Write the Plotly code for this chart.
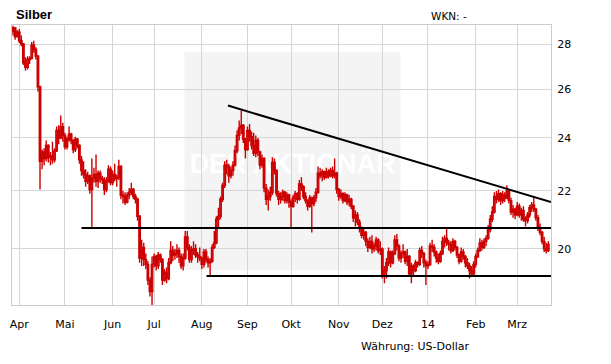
import math
import pandas as pd
import plotly.graph_objects as go

# Trading days (weekdays) shown on the chart
dates = pd.bdate_range("2013-03-27", "2014-03-24")

opens = [
    28.60, 28.75, 28.35,
    28.55, 28.15, 28.00, 27.15, 26.95, 27.30, 27.35, 27.95, 27.75, 27.45, 26.10, 23.10, 23.45, 23.20, 23.70, 23.25, 23.30, 23.15, 23.50, 24.30, 24.00, 24.45,
    24.10, 23.65, 23.95, 24.15, 23.90, 23.55, 23.95, 23.70, 23.15, 22.75, 22.60, 22.35, 22.55, 22.05, 22.45, 22.60, 22.35, 22.65, 22.45, 22.40, 22.05, 22.35, 22.80,
    22.30, 22.60, 22.45, 22.50, 22.90, 21.85, 21.80, 21.60, 21.85, 21.95, 22.05, 21.80, 21.70, 21.10, 19.70, 20.05, 19.65, 19.50, 19.00, 18.65,
    19.50, 19.75, 19.45, 19.80, 19.65, 19.00, 19.25, 19.05, 19.55, 19.95, 19.80, 19.85, 19.95, 19.75, 19.45, 19.70, 20.40, 20.05, 19.65, 19.95, 20.00, 19.80, 19.75,
    19.70, 19.50, 19.90, 19.65, 19.55, 19.60, 20.05, 20.20, 21.00, 21.10, 21.70, 22.20, 22.95, 22.90, 22.55, 22.75, 22.95, 23.50, 24.10, 24.40, 24.50, 23.95,
    23.55, 24.30, 24.05, 23.70, 23.40, 23.90, 23.45, 22.95, 23.20, 22.10, 21.70, 21.80, 21.95, 23.05, 22.75, 21.90, 21.70, 21.80, 21.95, 21.65, 21.85,
    21.60, 21.45, 21.75, 21.90, 21.70, 22.25, 22.15, 21.80, 21.65, 21.45, 21.75, 21.55, 21.75, 21.95, 22.65, 22.55, 22.70, 22.50, 22.70, 22.55, 22.75, 22.55, 22.65,
    22.05, 21.80, 21.90, 21.65, 21.85, 21.60, 21.70, 21.45, 21.05, 21.15, 20.90, 20.70, 20.45, 20.55, 20.25, 20.05, 20.25, 20.00, 20.10, 20.30, 19.95,
    20.00, 19.15, 19.30, 19.55, 19.90, 19.55, 19.85, 20.30, 20.10, 19.70, 19.85, 19.90, 19.60, 19.75, 19.20, 19.45, 19.30, 19.55, 19.50, 19.95, 19.85, 19.55,
    19.45, 19.50, 20.10, 20.05, 19.90, 19.70, 19.60, 19.85, 20.25, 20.35, 20.20, 20.15, 19.95, 20.25, 20.05, 19.80, 19.60, 19.90, 19.75, 19.55, 19.45, 19.30, 19.20,
    19.50, 19.75, 19.95, 20.20, 20.05, 20.25, 20.35, 20.65, 21.00, 21.25, 21.80, 21.70, 21.90, 21.65, 21.85, 21.75, 22.00, 21.65, 21.25, 21.35,
    21.15, 21.45, 21.15, 21.30, 21.00, 20.95, 21.15, 21.40, 21.50, 21.35, 21.05, 20.70, 20.55, 20.25, 20.00, 19.95,
]

highs = [
    28.85, 28.80, 28.65,
    28.70, 28.40, 28.05, 27.40, 27.45, 27.45, 28.10, 28.15, 27.85, 27.50, 26.15, 23.55, 23.60, 23.90, 23.75, 23.45, 23.85, 23.60, 24.45, 24.50, 24.90, 24.60,
    24.20, 24.05, 24.45, 24.20, 23.95, 24.05, 24.00, 23.75, 23.30, 23.10, 22.80, 22.70, 22.60, 23.20, 22.85, 23.35, 22.75, 22.75, 22.55, 22.50, 22.50, 22.95, 22.90,
    22.75, 23.00, 22.60, 23.15, 22.95, 22.00, 21.95, 21.95, 22.10, 22.30, 22.10, 21.90, 21.75, 21.15, 20.30, 20.20, 19.85, 19.60, 19.10, 19.75,
    19.85, 19.80, 19.90, 19.85, 19.70, 19.35, 19.40, 19.70, 20.25, 20.10, 20.00, 20.15, 20.05, 19.85, 19.85, 20.60, 20.60, 20.15, 20.10, 20.25, 20.15, 19.90, 20.05,
    19.75, 20.00, 20.00, 19.75, 19.70, 20.15, 20.60, 21.10, 21.40, 21.80, 22.30, 23.10, 23.15, 23.00, 22.90, 23.10, 23.70, 24.30, 24.70, 25.10, 24.55, 24.00,
    24.45, 24.55, 24.25, 24.20, 24.10, 24.00, 23.50, 23.35, 23.25, 22.25, 22.05, 22.15, 23.25, 23.20, 22.80, 22.00, 21.95, 22.05, 22.00, 21.95, 21.90,
    21.70, 21.85, 22.00, 21.95, 22.40, 22.50, 22.20, 21.95, 21.70, 21.85, 21.80, 21.85, 22.10, 22.90, 22.85, 22.80, 22.75, 22.85, 22.80, 22.85, 22.90, 23.20, 22.70,
    22.10, 22.05, 21.95, 21.95, 21.90, 21.85, 21.75, 21.50, 21.30, 21.25, 21.00, 20.75, 20.70, 20.60, 20.35, 20.40, 20.45, 20.20, 20.40, 20.35, 20.25,
    20.05, 19.45, 19.70, 20.05, 19.95, 19.95, 20.45, 20.50, 20.15, 19.95, 20.15, 19.95, 20.00, 19.80, 19.55, 19.50, 19.65, 19.60, 20.05, 20.10, 19.90, 19.65,
    19.60, 20.20, 20.30, 20.15, 19.95, 19.85, 19.95, 20.40, 20.45, 20.70, 20.30, 20.25, 20.35, 20.30, 20.10, 19.85, 20.05, 20.00, 19.80, 19.70, 19.55, 19.45, 19.60,
    19.85, 20.05, 20.35, 20.30, 20.35, 20.45, 20.80, 21.15, 21.45, 21.95, 22.00, 22.05, 21.95, 22.00, 21.95, 22.20, 22.05, 21.75, 21.50, 21.40,
    21.60, 21.55, 21.40, 21.45, 21.10, 21.25, 21.50, 21.60, 21.80, 21.40, 21.15, 20.85, 20.60, 20.40, 20.20, 20.25,
]

lows = [
    28.40, 28.20, 28.30,
    28.05, 27.90, 27.05, 26.80, 26.85, 27.10, 27.30, 27.60, 27.30, 25.90, 22.05, 22.80, 22.95, 23.10, 23.05, 22.95, 23.00, 23.05, 23.45, 23.75, 23.95, 23.85,
    23.55, 23.55, 23.85, 23.75, 23.40, 23.45, 23.60, 23.00, 22.55, 22.45, 22.15, 22.25, 21.90, 20.70, 22.30, 22.15, 22.10, 22.30, 22.25, 21.85, 21.95, 22.30, 22.20,
    22.20, 22.35, 22.15, 22.40, 21.70, 21.55, 21.50, 21.55, 21.70, 21.85, 21.70, 21.55, 20.95, 19.55, 19.45, 19.45, 19.35, 18.85, 18.50, 18.20,
    19.40, 19.30, 19.35, 19.55, 18.85, 18.95, 18.90, 19.00, 19.50, 19.60, 19.65, 19.70, 19.55, 19.35, 19.30, 19.65, 19.95, 19.55, 19.55, 19.80, 19.70, 19.55, 19.60,
    19.35, 19.40, 19.55, 19.40, 19.10, 19.55, 20.00, 20.15, 20.70, 21.00, 21.60, 22.10, 22.60, 22.30, 22.45, 22.55, 22.90, 23.40, 23.90, 24.15, 23.80, 23.20,
    23.50, 23.85, 23.55, 23.30, 23.25, 23.30, 22.80, 22.85, 21.95, 21.50, 21.30, 21.65, 21.85, 22.60, 21.80, 21.50, 21.55, 21.65, 21.55, 21.55, 21.40,
    20.70, 21.40, 21.60, 21.55, 21.65, 22.00, 21.70, 21.55, 21.30, 21.40, 20.55, 21.45, 21.60, 21.90, 22.45, 22.35, 22.40, 22.45, 22.45, 22.50, 22.45, 22.45, 21.90,
    21.65, 21.70, 21.55, 21.60, 21.50, 21.45, 21.35, 20.90, 20.75, 20.80, 20.55, 20.35, 20.30, 20.10, 19.90, 20.00, 19.85, 19.90, 19.95, 19.85, 19.80,
    19.05, 18.90, 19.05, 19.45, 19.40, 19.50, 19.80, 19.95, 19.60, 19.55, 19.70, 19.50, 19.45, 19.10, 18.90, 19.15, 19.25, 19.40, 19.45, 19.70, 19.40, 18.85,
    19.35, 19.45, 19.90, 19.75, 19.55, 19.50, 19.55, 19.80, 20.05, 20.10, 19.95, 19.85, 19.90, 19.95, 19.70, 19.50, 19.55, 19.65, 19.40, 19.35, 19.05, 19.10, 19.15,
    19.40, 19.70, 19.90, 19.95, 20.00, 20.10, 20.30, 20.55, 20.90, 21.20, 21.55, 21.60, 21.50, 21.55, 21.60, 21.70, 21.55, 21.15, 21.05, 21.00,
    21.10, 21.05, 20.95, 20.90, 20.75, 20.85, 21.05, 21.25, 21.25, 20.95, 20.60, 20.45, 20.15, 19.90, 19.85, 19.90,
]

closes = [
    28.75, 28.35, 28.55,
    28.15, 28.00, 27.15, 26.95, 27.30, 27.35, 27.95, 27.75, 27.45, 26.10, 23.10, 23.45, 23.20, 23.70, 23.25, 23.30, 23.15, 23.50, 24.30, 24.00, 24.45, 24.10,
    23.65, 23.95, 24.15, 23.90, 23.55, 23.95, 23.70, 23.15, 22.75, 22.60, 22.35, 22.55, 22.05, 22.45, 22.60, 22.35, 22.65, 22.45, 22.40, 22.05, 22.35, 22.80, 22.30,
    22.60, 22.45, 22.50, 22.90, 21.85, 21.80, 21.60, 21.85, 21.95, 22.05, 21.80, 21.70, 21.10, 19.70, 20.05, 19.65, 19.50, 19.00, 18.65, 19.50,
    19.75, 19.45, 19.80, 19.65, 19.00, 19.25, 19.05, 19.55, 19.95, 19.80, 19.85, 19.95, 19.75, 19.45, 19.70, 20.40, 20.05, 19.65, 19.95, 20.00, 19.80, 19.75, 19.70,
    19.50, 19.90, 19.65, 19.55, 19.60, 20.05, 20.20, 21.00, 21.10, 21.70, 22.20, 22.95, 22.90, 22.55, 22.75, 22.95, 23.50, 24.10, 24.40, 24.50, 23.95, 23.55,
    24.30, 24.05, 23.70, 23.40, 23.90, 23.45, 22.95, 23.20, 22.10, 21.70, 21.80, 21.95, 23.05, 22.75, 21.90, 21.70, 21.80, 21.95, 21.65, 21.85, 21.60,
    21.45, 21.75, 21.90, 21.70, 22.25, 22.15, 21.80, 21.65, 21.45, 21.75, 21.55, 21.75, 21.95, 22.65, 22.55, 22.70, 22.50, 22.70, 22.55, 22.75, 22.55, 22.65, 22.05,
    21.80, 21.90, 21.65, 21.85, 21.60, 21.70, 21.45, 21.05, 21.15, 20.90, 20.70, 20.45, 20.55, 20.25, 20.05, 20.25, 20.00, 20.10, 20.30, 19.95, 20.00,
    19.15, 19.30, 19.55, 19.90, 19.55, 19.85, 20.30, 20.10, 19.70, 19.85, 19.90, 19.60, 19.75, 19.20, 19.45, 19.30, 19.55, 19.50, 19.95, 19.85, 19.55, 19.45,
    19.50, 20.10, 20.05, 19.90, 19.70, 19.60, 19.85, 20.25, 20.35, 20.20, 20.15, 19.95, 20.25, 20.05, 19.80, 19.60, 19.90, 19.75, 19.55, 19.45, 19.30, 19.20, 19.50,
    19.75, 19.95, 20.20, 20.05, 20.25, 20.35, 20.65, 21.00, 21.25, 21.80, 21.70, 21.90, 21.65, 21.85, 21.75, 22.00, 21.65, 21.25, 21.35, 21.15,
    21.45, 21.15, 21.30, 21.00, 20.95, 21.15, 21.40, 21.50, 21.35, 21.05, 20.70, 20.55, 20.25, 20.00, 19.95, 20.15,
]

# Month ticks (first trading day of each month) and labels
tick_dates = ["2013-04-01", "2013-05-01", "2013-06-03", "2013-07-01", "2013-08-01", "2013-09-02",
              "2013-10-01", "2013-11-01", "2013-12-02", "2014-01-01", "2014-02-03", "2014-03-03"]
tick_labels = ["Apr", "Mai", "Jun", "Jul", "Aug", "Sep", "Okt", "Nov", "Dez", "14", "Feb", "Mrz"]
price_ticks = [20, 22, 24, 26, 28]

# Trend lines drawn on the chart
trend_dates = ["2013-08-19 14:00", "2014-03-25 07:00"]
trend_prices = [25.31, 21.60]
resist_dates = ["2013-05-13", "2014-03-25 07:00"]
resist_prices = [20.70, 20.70]
support_dates = ["2013-08-05 06:00", "2014-03-25 07:00"]
support_prices = [19.13, 19.13]

n = len(dates)
assert len(opens) == n and len(highs) == n and len(lows) == n and len(closes) == n, (n, len(opens), len(highs), len(lows), len(closes))

RED = "#cc0000"
FONT = "DejaVu Sans"

fig = go.Figure()
fig.add_trace(go.Candlestick(
    x=dates, open=opens, high=highs, low=lows, close=closes,
    increasing=dict(line=dict(color=RED, width=1.4), fillcolor="#ffffff"),
    decreasing=dict(line=dict(color=RED, width=1.4), fillcolor=RED),
    whiskerwidth=0, hoverinfo="skip", showlegend=False,
))
for xs, ys in [(trend_dates, trend_prices), (resist_dates, resist_prices), (support_dates, support_prices)]:
    fig.add_trace(go.Scatter(x=xs, y=ys, mode="lines", line=dict(color="#000000", width=2),
                             hoverinfo="skip", showlegend=False))

# The page body adds an 8px margin, so the figure is sized/offset to compensate.
fig.update_layout(
    width=603, height=356,
    margin=dict(l=2, r=60, t=17, b=59),
    paper_bgcolor="#ffffff", plot_bgcolor="#ffffff",
    boxgap=0.0,
    font=dict(family=FONT, size=11, color="#000000"),
    xaxis=dict(
        type="date",
        range=["2013-03-26 12:00", "2014-03-25 07:00"],
        rangebreaks=[dict(bounds=["sat", "mon"])],
        rangeslider=dict(visible=False),
        tickmode="array", tickvals=tick_dates, ticktext=tick_labels,
        ticks="outside", ticklen=9, tickcolor="rgba(0,0,0,0)",
        ticklabeloverflow="allow",
        showgrid=True, gridcolor="#d6d6d6", gridwidth=1,
        showline=True, linecolor="#cccccc", linewidth=1, mirror=True,
        zeroline=False, tickfont=dict(family=FONT, size=11, color="#000000"),
    ),
    yaxis=dict(
        type="log", side="right",
        range=[math.log10(18.24), math.log10(28.89)],
        tickmode="array", tickvals=price_ticks, ticktext=[str(v) for v in price_ticks],
        ticks="outside", ticklen=3, tickcolor="rgba(0,0,0,0)",
        showgrid=True, gridcolor="#d6d6d6", gridwidth=1,
        showline=True, linecolor="#cccccc", linewidth=1, mirror=True,
        zeroline=False, tickfont=dict(family=FONT, size=11, color="#000000"),
    ),
    shapes=[dict(type="rect", xref="paper", yref="paper", x0=0.3198, x1=0.7209, y0=0.125, y1=0.9036,
                 fillcolor="#f4f4f4", line=dict(width=0), layer="below",
                 label=dict(text="<b>DER AKTIONÄR</b>", textposition="middle center",
                            font=dict(family="Liberation Sans", size=27, color="#ffffff"),
                            yanchor="middle", padding=0))],
    annotations=[
        dict(text="<b>Silber</b>", xref="paper", yref="paper", x=0.0037, y=1.039, showarrow=False,
             xanchor="left", yanchor="middle", font=dict(family="Liberation Sans", size=13, color="#000000")),
        dict(text="WKN: -", xref="paper", yref="paper", x=0.7745, y=1.032, showarrow=False,
             xanchor="left", yanchor="middle", font=dict(family=FONT, size=10.5, color="#000000")),
        dict(text="Währung: US-Dollar", xref="paper", yref="paper", x=0.643, y=-0.148, showarrow=False,
             xanchor="left", yanchor="middle", font=dict(family=FONT, size=11, color="#000000")),
    ],
)

fig.write_html("out.html")
